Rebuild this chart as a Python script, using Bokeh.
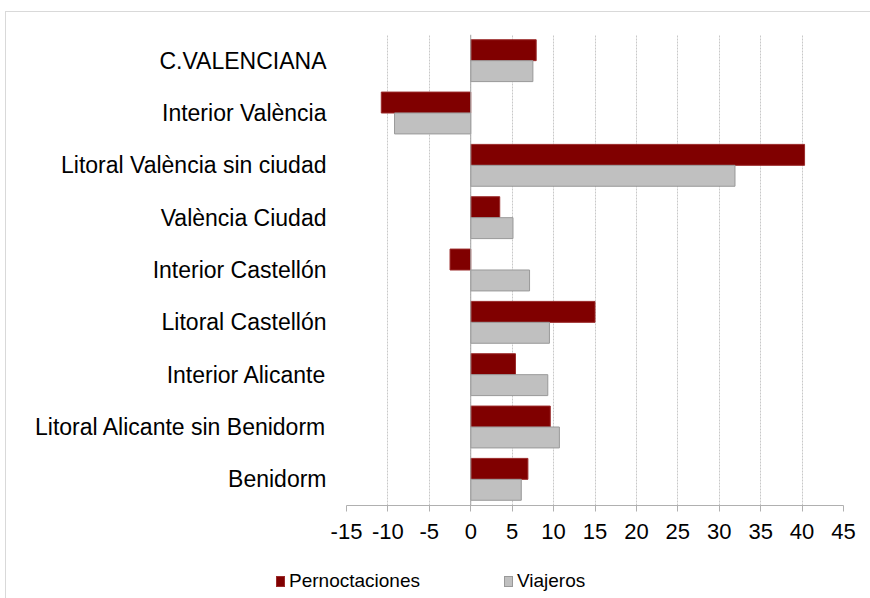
from bokeh.plotting import figure
from bokeh.layouts import column
from bokeh.models import ColumnDataSource, FactorRange, Span, FixedTicker, Div
from bokeh.transform import dodge
from bokeh.embed import file_html
from bokeh.resources import INLINE

categories = ["C.VALENCIANA", "Interior València", "Litoral València sin ciudad",
              "València Ciudad", "Interior Castellón", "Litoral Castellón",
              "Interior Alicante", "Litoral Alicante sin Benidorm", "Benidorm"]
pernoctaciones = [7.9, -10.8, 40.3, 3.5, -2.5, 15.0, 5.4, 9.6, 6.9]
viajeros = [7.5, -9.2, 31.9, 5.1, 7.1, 9.5, 9.3, 10.7, 6.1]
x_ticks = [-15, -10, -5, 0, 5, 10, 15, 20, 25, 30, 35, 40, 45]
series_names = ["Pernoctaciones", "Viajeros"]
series_fill = ["#800000", "#c0c0c0"]
series_line = ["#9a2a2a", "#999999"]

FONT = "Liberation Sans"

src = ColumnDataSource(dict(cat=categories, pern=pernoctaciones, viaj=viajeros))

p = figure(width=856, height=533, output_backend="svg", toolbar_location=None,
           y_range=FactorRange(factors=list(reversed(categories))),
           x_range=(-15, 45),
           min_border_left=340, min_border_top=22, min_border_right=19, min_border_bottom=40)

p.hbar(y=dodge("cat", 0.2, range=p.y_range), left=0, right="pern", height=0.4,
       source=src, fill_color=series_fill[0], line_color=series_line[0], line_width=1)
p.hbar(y=dodge("cat", -0.2, range=p.y_range), left=0, right="viaj", height=0.4,
       source=src, fill_color=series_fill[1], line_color=series_line[1], line_width=1)

p.add_layout(Span(location=0, dimension="height", line_color="#a6a6a6", line_width=1))

p.outline_line_color = None
p.background_fill_color = "white"
p.border_fill_color = "white"

p.ygrid.grid_line_color = None
p.xgrid.ticker = FixedTicker(ticks=x_ticks)
p.xgrid.grid_line_color = "#c8c8c8"
p.xgrid.grid_line_dash = "2 1"
p.xgrid.grid_line_width = 1

xa = p.xaxis[0]
xa.ticker = FixedTicker(ticks=x_ticks)
xa.major_label_overrides = {t: str(t) for t in x_ticks}
xa.axis_line_color = "#b0b0b0"
xa.axis_line_width = 1
xa.major_tick_line_color = "#b0b0b0"
xa.major_tick_out = 6
xa.major_tick_in = 0
xa.minor_tick_line_color = None
xa.major_label_text_font = FONT
xa.major_label_text_font_size = "22px"
xa.major_label_text_color = "black"
xa.major_label_standoff = 12

ya = p.yaxis[0]
ya.axis_line_color = None
ya.major_tick_line_color = None
ya.minor_tick_line_color = None
ya.major_label_text_font = FONT
ya.major_label_text_font_size = "23px"
ya.major_label_text_color = "black"
ya.major_label_standoff = 14

# legend strip below the chart (HTML, real text)
parts = []
for i, (name, fc, lc) in enumerate(zip(series_names, series_fill, series_line)):
    ml = "0px" if i == 0 else "84px"
    parts.append(
        f'<span style="display:inline-block;width:9px;height:11px;background:{fc};'
        f'border:1px solid {lc};margin-left:{ml};margin-right:4px;box-sizing:border-box"></span>'
        f'<span>{name}</span>')
legend_html = (
    f'<div style="display:flex;align-items:center;height:22px;padding-left:265px;'
    f'margin-top:20px;font-family:\'{FONT}\';font-size:19px;color:black;white-space:nowrap">'
    + "".join(parts) + '</div>')
lg = Div(text=legend_html, width=856, height=45)

layout = column(p, lg, spacing=0,
                styles={"border-left": "1px solid #d9d9d9", "border-top": "1px solid #d9d9d9",
                        "margin-left": "5px", "margin-top": "11px"})

open("out.html", "w").write(file_html(layout, INLINE))
